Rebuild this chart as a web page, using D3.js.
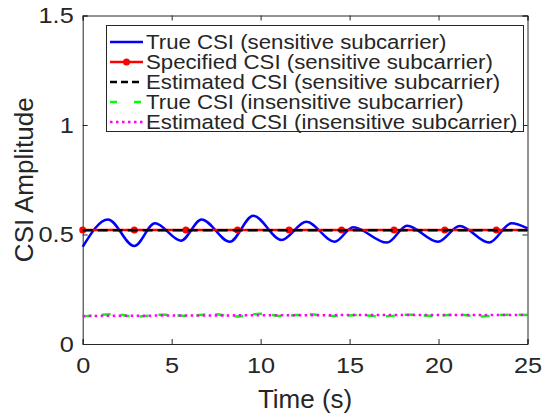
<!DOCTYPE html>
<html><head><meta charset="utf-8">
<script src="https://cdn.jsdelivr.net/npm/d3@7"></script>
<style>body{margin:0;background:#fff}svg{display:block}text{font-family:"Liberation Sans",Arial,Helvetica,sans-serif;fill:#262626}</style>
</head><body><svg id="c" width="543" height="417"></svg>
<script>
const xTicks=[0,5,10,15,20,25];
const yTicks=[0,0.5,1,1.5];
const yTickLabels=["0","0.5","1","1.5"];
const trueSensT=[0,1.42,2.9,4.06,5.52,6.68,8.27,9.58,11.17,12.57,14.16,15.2,17.1,18.23,19.97,21.19,22.84,24.1,25];
const trueSensV=[0.444,0.569,0.447,0.551,0.472,0.569,0.467,0.586,0.475,0.558,0.467,0.533,0.463,0.540,0.467,0.539,0.463,0.551,0.528];
const specT=[0,25];
const specV=[0.52,0.52];
const specMarkT=[0,2.9,5.8,8.7,11.6,14.55,17.5,20.35,23.25];
const estSensT=[0,25];
const estSensV=[0.519,0.519];
const trueInsT=[0,1.72,3.03,4.44,5.84,7.25,8.65,9.96,11.27,12.67,14.08,15.48,16.89,18.29,19.7,21.01,22.42,23.91,25];
const trueInsV=[0.125,0.136,0.125,0.134,0.128,0.136,0.126,0.138,0.128,0.136,0.128,0.132,0.126,0.134,0.128,0.134,0.126,0.134,0.132];
const estInsT=[0,5,10,15,20,25];
const estInsV=[0.128,0.130,0.131,0.132,0.132,0.133];
const legendLabels=["True CSI (sensitive subcarrier)","Specified CSI (sensitive subcarrier)","Estimated CSI (sensitive subcarrier)","True CSI (insensitive subcarrier)","Estimated CSI (insensitive subcarrier)"];

const svg=d3.select("#c");
const L=82.7,R=527.5,T=15.5,B=344;
const x=d3.scaleLinear().domain([0,25]).range([L,R]);
const y=d3.scaleLinear().domain([0,1.5]).range([B,T]);
const ax="#262626";
const sx=1.15;

// axes
const gx=svg.append("g").attr("transform",`translate(0,${B})`).call(d3.axisBottom(x).tickValues(xTicks).tickSize(-5).tickPadding(13).tickFormat(d3.format("d")));
const gxt=svg.append("g").attr("transform",`translate(0,${T})`).call(d3.axisTop(x).tickValues(xTicks).tickSize(-5).tickFormat(""));
const gy=svg.append("g").attr("transform",`translate(${L},0)`).call(d3.axisLeft(y).tickValues(yTicks).tickSize(-5).tickPadding(9).tickFormat((d,i)=>yTickLabels[i]));
const gyr=svg.append("g").attr("transform",`translate(${R},0)`).call(d3.axisRight(y).tickValues(yTicks).tickSize(-5).tickFormat(""));
[gx,gxt,gy,gyr].forEach(g=>{g.selectAll("path").attr("stroke",ax).attr("stroke-width",1);g.selectAll("line").attr("stroke",ax);g.selectAll("text").attr("font-size",22).attr("font-family","Liberation Sans, Arial, sans-serif").attr("fill",ax);});
gx.selectAll(".tick text").attr("dy","0.71em").attr("transform",`scale(${sx},1)`);
gy.selectAll(".tick text").each(function(){const t=d3.select(this);const xx=+t.attr("x");t.attr("transform",`translate(${xx},0) scale(${sx},1)`).attr("x",0);});

const zip=(a,b)=>a.map((t,i)=>[t,b[i]]);
const curved=d3.line().x(d=>x(d[0])).y(d=>y(d[1])).curve(d3.curveMonotoneX);
const lin=d3.line().x(d=>x(d[0])).y(d=>y(d[1]));
const plot=svg.append("g");
plot.append("path").datum(zip(trueSensT,trueSensV)).attr("d",curved).attr("fill","none").attr("stroke","#0000ff").attr("stroke-width",2.5);
plot.append("path").datum(zip(specT,specV)).attr("d",lin).attr("fill","none").attr("stroke","#ff0000").attr("stroke-width",2.5);
plot.selectAll("circle.m").data(specMarkT).enter().append("circle").attr("cx",d=>x(d)).attr("cy",y(specV[0])).attr("r",3.5).attr("fill","#ff0000");
plot.append("path").datum(zip(estSensT,estSensV)).attr("d",lin).attr("fill","none").attr("stroke","#000").attr("stroke-width",2.5).attr("stroke-dasharray","10,5");
plot.append("path").datum(zip(trueInsT,trueInsV)).attr("d",curved).attr("fill","none").attr("stroke","#00ff00").attr("stroke-width",2.5).attr("stroke-dasharray","9,10");
plot.append("path").datum(zip(estInsT,estInsV)).attr("d",lin).attr("fill","none").attr("stroke","#ff00ff").attr("stroke-width",2.5).attr("stroke-dasharray","2.5,3.5");

// titles
svg.append("text").attr("x",(L+R)/2).attr("y",408).attr("text-anchor","middle").attr("font-size",26).text("Time (s)");
svg.append("text").attr("transform",`translate(33,${(T+B)/2}) rotate(-90)`).attr("text-anchor","middle").attr("font-size",26).text("CSI Amplitude");

// legend
const lg=svg.append("g");
const lx=106.5,ly=25.5,lw=417,lh=106,rowH=20,r0=42;
lg.append("rect").attr("x",lx).attr("y",ly).attr("width",lw).attr("height",lh).attr("fill","#fff").attr("stroke",ax).attr("stroke-width",1);
const styles=[{c:"#0000ff",d:null},{c:"#ff0000",d:null,m:true},{c:"#000",d:"7,4"},{c:"#00ff00",d:"7,17"},{c:"#ff00ff",d:"2.5,3.5"}];
legendLabels.forEach((t,i)=>{
  const yy=r0+i*rowH;
  const s=styles[i];
  const l=lg.append("line").attr("x1",110).attr("x2",143).attr("y1",yy).attr("y2",yy).attr("stroke",s.c).attr("stroke-width",2.5);
  if(s.d) l.attr("stroke-dasharray",s.d);
  if(s.m) lg.append("circle").attr("cx",126.5).attr("cy",yy).attr("r",3.5).attr("fill",s.c);
  lg.append("text").attr("transform",`translate(146,${yy}) scale(1.14,1)`).attr("dy","0.36em").attr("font-size",19.5).text(t);
});
</script></body></html>
